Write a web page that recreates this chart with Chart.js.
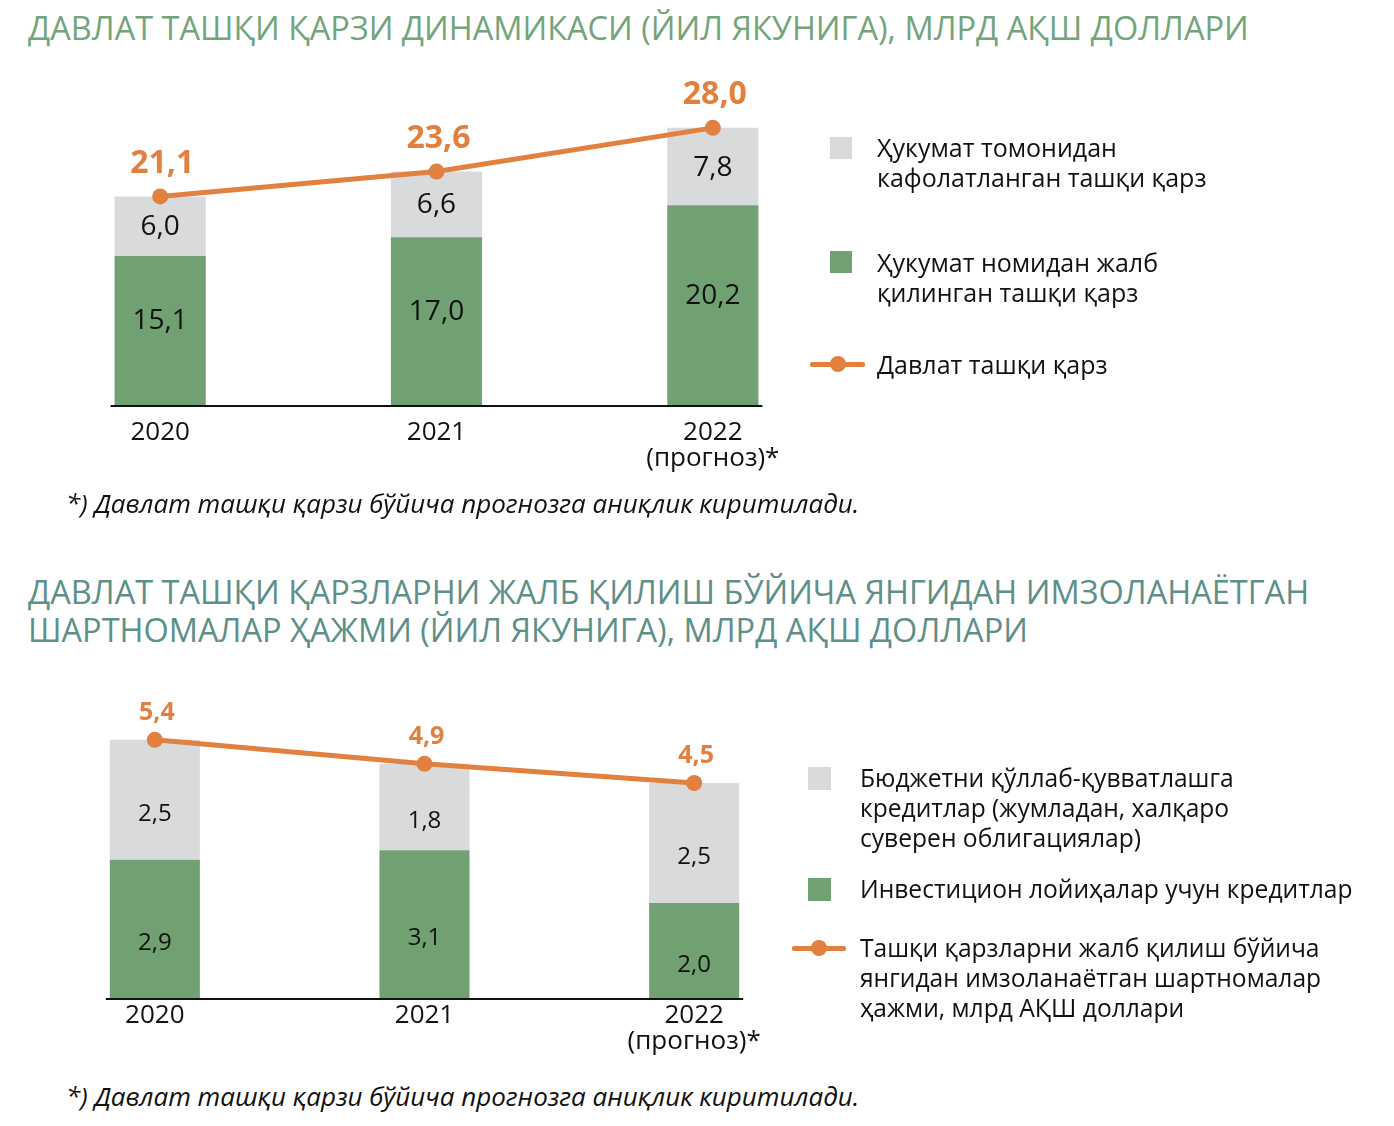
<!DOCTYPE html>
<html>
<head>
<meta charset="utf-8">
<script src="https://cdn.jsdelivr.net/npm/chart.js@4.4.1/dist/chart.umd.min.js"></script>
<style>
  body { margin: 0; width: 1394px; height: 1126px; background: #fff; position: relative; overflow: hidden;
         font-family: 'Open Sans', sans-serif; color: #111; }
  .abs { position: absolute; white-space: nowrap; }
  .title { font-size: 32.5px; line-height: 38px; left: 28px; }
  .lg { font-size: 25px; line-height: 30px; }
  .lg2 { font-size: 24.6px; line-height: 30px; }
  .sq { position: absolute; width: 22px; height: 22px; }
  .note { font-size: 26px; line-height: 30px; font-style: italic; left: 66px; }
  .lline { position: absolute; height: 5px; background: #e2803f; border-radius: 2px; }
  .ldot { position: absolute; width: 16px; height: 16px; border-radius: 50%; background: #e2803f; }
  canvas { position: absolute; left: 0; }
</style>
</head>
<body>
<div class="abs title" style="top:9px;color:#74a47c">ДАВЛАТ ТАШҚИ ҚАРЗИ ДИНАМИКАСИ (ЙИЛ ЯКУНИГА), МЛРД АҚШ ДОЛЛАРИ</div>
<canvas id="debtChart" width="880" height="426" style="top:60px"></canvas>

<div class="sq" style="left:830px;top:137px;background:#d9dadb"></div>
<div class="abs lg" style="left:877px;top:132px">Ҳукумат томонидан<br>кафолатланган ташқи қарз</div>
<div class="sq" style="left:830px;top:251px;background:#71a072"></div>
<div class="abs lg" style="left:877px;top:247px">Ҳукумат номидан жалб<br>қилинган ташқи қарз</div>
<div class="lline" style="left:810px;width:55px;top:362px"></div>
<div class="ldot" style="left:830px;top:356px"></div>
<div class="abs lg" style="left:877px;top:349px">Давлат ташқи қарз</div>

<div class="abs note" style="top:488px">*) Давлат ташқи қарзи бўйича прогнозга аниқлик киритилади.</div>

<div class="abs title" style="top:573px;color:#5e8f88">ДАВЛАТ ТАШҚИ ҚАРЗЛАРНИ ЖАЛБ ҚИЛИШ БЎЙИЧА ЯНГИДАН ИМЗОЛАНАЁТГАН<br>ШАРТНОМАЛАР ҲАЖМИ (ЙИЛ ЯКУНИГА), МЛРД АҚШ ДОЛЛАРИ</div>
<canvas id="contractChart" width="860" height="389" style="top:670px"></canvas>

<div class="sq" style="left:808px;top:767px;width:23px;height:23px;background:#d9dadb"></div>
<div class="abs lg2" style="left:860px;top:763px">Бюджетни қўллаб-қувватлашга<br>кредитлар (жумладан, халқаро<br>суверен облигациялар)</div>
<div class="sq" style="left:808px;top:878px;width:23px;height:23px;background:#71a072"></div>
<div class="abs lg2" style="left:860px;top:874px">Инвестицион лойиҳалар учун кредитлар</div>
<div class="lline" style="left:792px;width:54px;top:946px"></div>
<div class="ldot" style="left:811px;top:940px"></div>
<div class="abs lg2" style="left:860px;top:933px">Ташқи қарзларни жалб қилиш бўйича<br>янгидан имзоланаётган шартномалар<br>ҳажми, млрд АҚШ доллари</div>

<div class="abs note" style="top:1081px">*) Давлат ташқи қарзи бўйича прогнозга аниқлик киритилади.</div>

<script>
const years = ['2020', '2021', ['2022', '(прогноз)*']];

// chart 1: davlat tashqi qarzi
const guaranteedDebt = [6.0, 6.6, 7.8];
const governmentDebt = [15.1, 17.0, 20.2];
const totalDebt = [21.1, 23.6, 28.0];

// chart 2: yangi shartnomalar
const budgetCredits = [2.5, 1.8, 2.5];
const investCredits = [2.9, 3.1, 2.0];
const newContracts = [5.4, 4.9, 4.5];

const GREEN = '#71a072';
const GREY = '#d9dadb';
const ORANGE = '#e2803f';

Chart.defaults.font.family = "'Open Sans', sans-serif";
Chart.defaults.color = '#111';

const fmt = v => v.toFixed(1).replace('.', ',');

// value labels + baseline
const labelsPlugin = {
  id: 'valueLabels',
  afterDatasetsDraw(chart, args, opts) {
    const ctx = chart.ctx;
    ctx.save();
    ctx.textAlign = 'center';
    ctx.textBaseline = 'middle';
    chart.data.datasets.forEach((ds, i) => {
      const meta = chart.getDatasetMeta(i);
      meta.data.forEach((el, j) => {
        const v = ds.data[j];
        if (ds.type === 'line') {
          ctx.fillStyle = ORANGE;
          ctx.font = 'bold ' + opts.topSize + 'px "Open Sans"';
          ctx.fillText(fmt(v), el.x + 2, el.y - opts.topGap);
        } else {
          ctx.fillStyle = '#111';
          ctx.font = opts.barSize + 'px "Open Sans"';
          ctx.fillText(fmt(v), el.x, (el.y + el.base) / 2 + opts.shift[i]);
        }
      });
    });
    // base line
    const bars = chart.getDatasetMeta(0).data;
    const y0 = chart.scales.y.getPixelForValue(0);
    ctx.strokeStyle = '#111';
    ctx.lineWidth = 2;
    ctx.beginPath();
    ctx.moveTo(bars[0].x - bars[0].width / 2 - 4, y0);
    ctx.lineTo(bars[bars.length - 1].x + bars[bars.length - 1].width / 2 + 4, y0);
    ctx.stroke();
    ctx.restore();
  }
};

function makeChart(id, bottomVals, topVals, lineVals, cfg) {
  return new Chart(document.getElementById(id), {
    data: {
      labels: years,
      datasets: [
        { type: 'bar', data: bottomVals, backgroundColor: GREEN, stack: 'bars', order: 2, clip: false,
          barPercentage: 1, categoryPercentage: cfg.barPct },
        { type: 'bar', data: topVals, backgroundColor: GREY, stack: 'bars', order: 2, clip: false,
          barPercentage: 1, categoryPercentage: cfg.barPct },
        { type: 'line', data: lineVals, stack: 'line', order: 0, clip: false,
          borderColor: ORANGE, borderWidth: 5, pointRadius: 8, pointHoverRadius: 8,
          pointBackgroundColor: ORANGE, pointBorderWidth: 0 }
      ]
    },
    options: {
      responsive: false,
      animation: false,
      layout: { padding: cfg.padding },
      plugins: {
        legend: { display: false },
        tooltip: { enabled: false },
        valueLabels: { barSize: cfg.barSize, topSize: cfg.topSize, topGap: cfg.topGap, shift: cfg.shift }
      },
      scales: {
        x: {
          stacked: true,
          grid: { display: false, drawTicks: false },
          border: { display: false },
          ticks: { font: { size: 26, lineHeight: 1.0 }, color: '#111', padding: cfg.tickPad, maxRotation: 0 }
        },
        y: {
          stacked: true,
          display: false,
          min: 0,
          max: cfg.yMax
        }
      }
    },
    plugins: [labelsPlugin]
  });
}

makeChart('debtChart', governmentDebt, guaranteedDebt, totalDebt, {
  barPct: 0.33, yMax: 30, tickPad: 14,
  padding: { left: 22, right: 29, top: 48, bottom: 0 },
  barSize: 28, topSize: 32, topGap: 33, shift: [-10, 1]
});

makeChart('contractChart', investCredits, budgetCredits, newContracts, {
  barPct: 0.334, yMax: 6, tickPad: 4,
  padding: { left: 20, right: 31, top: 41, bottom: 0 },
  barSize: 24, topSize: 25, topGap: 27, shift: [14, 14]
});
</script>
</body>
</html>
